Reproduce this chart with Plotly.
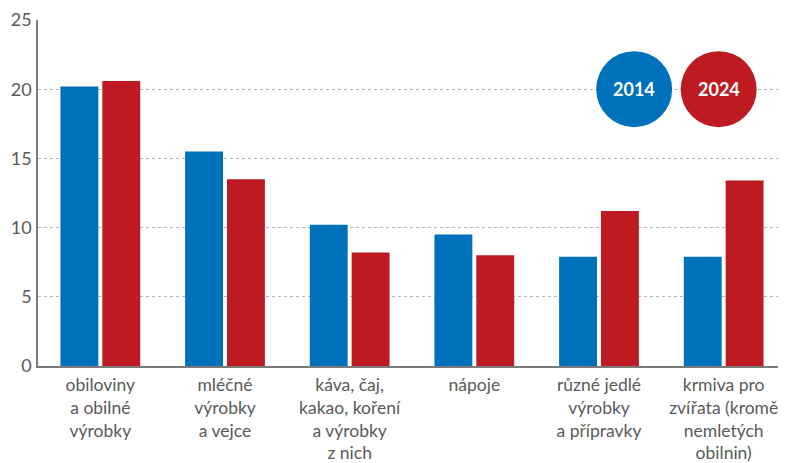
import plotly.graph_objects as go

categories = [
    "obiloviny<br>a obilné<br>výrobky",
    "mléčné<br>výrobky<br>a vejce",
    "káva, čaj,<br>kakao, koření<br>a výrobky<br>z nich",
    "nápoje",
    "různé jedlé<br>výrobky<br>a přípravky",
    "krmiva pro<br>zvířata (kromě<br>nemletých<br>obilnin)",
]
values_2014 = [20.2, 15.5, 10.2, 9.5, 7.9, 7.9]
values_2024 = [20.6, 13.5, 8.2, 8.0, 11.2, 13.4]
series_names = ["2014", "2024"]
y_ticks = [0, 5, 10, 15, 20, 25]

BLUE = "#0071BB"
RED = "#BD1B21"
GREY_TXT = "#5a5a5a"
FONT = "Lato"

fig = go.Figure()
fig.add_trace(go.Bar(x=categories, y=values_2014, name=series_names[0],
                     marker=dict(color=BLUE, line=dict(width=0))))
fig.add_trace(go.Bar(x=categories, y=values_2024, name=series_names[1],
                     marker=dict(color=RED, line=dict(width=0))))

# page body has an 8px margin, so the figure is sized/offset to compensate
fig.update_layout(
    width=778, height=455,
    margin=dict(l=30, r=0, t=12, b=97),
    paper_bgcolor="white", plot_bgcolor="white",
    barmode="group", bargap=0.328, bargroupgap=0.095,
    showlegend=False,
    font=dict(family=FONT, color=GREY_TXT),
)
fig.update_xaxes(
    automargin=False, ticklabeloverflow="allow",
    showline=True, linecolor="#7a7a7a", linewidth=2,
    showgrid=False, ticks="", tickfont=dict(size=17.5, color=GREY_TXT, family=FONT),
    ticklabelstandoff=2,
)
fig.update_yaxes(
    automargin=False, ticklabeloverflow="allow",
    range=[0, 25], tickvals=y_ticks, showline=True, linecolor="#7a7a7a", linewidth=1.5,
    showgrid=True, gridcolor="#b5b5b5", gridwidth=1.2, griddash="3px,3px",
    zeroline=False, ticks="", tickfont=dict(size=18, color=GREY_TXT, family=FONT),
    ticklabelstandoff=1,
)

legend_x = [0.797, 0.910]
legend_colors = [BLUE, RED]
for name, px, col in zip(series_names, legend_x, legend_colors):
    fig.add_shape(type="circle", xref="paper", yref="y",
                  xsizemode="pixel", ysizemode="pixel",
                  xanchor=px, yanchor=20,
                  x0=-38, x1=38, y0=-38, y1=38,
                  fillcolor=col, line=dict(width=0), layer="above")
    fig.add_annotation(x=px, y=20, xref="paper", yref="y", text="<b>%s</b>" % name,
                       xanchor="center", yanchor="middle",
                       showarrow=False, font=dict(size=18, color="white", family=FONT))

fig.write_html("out.html")
